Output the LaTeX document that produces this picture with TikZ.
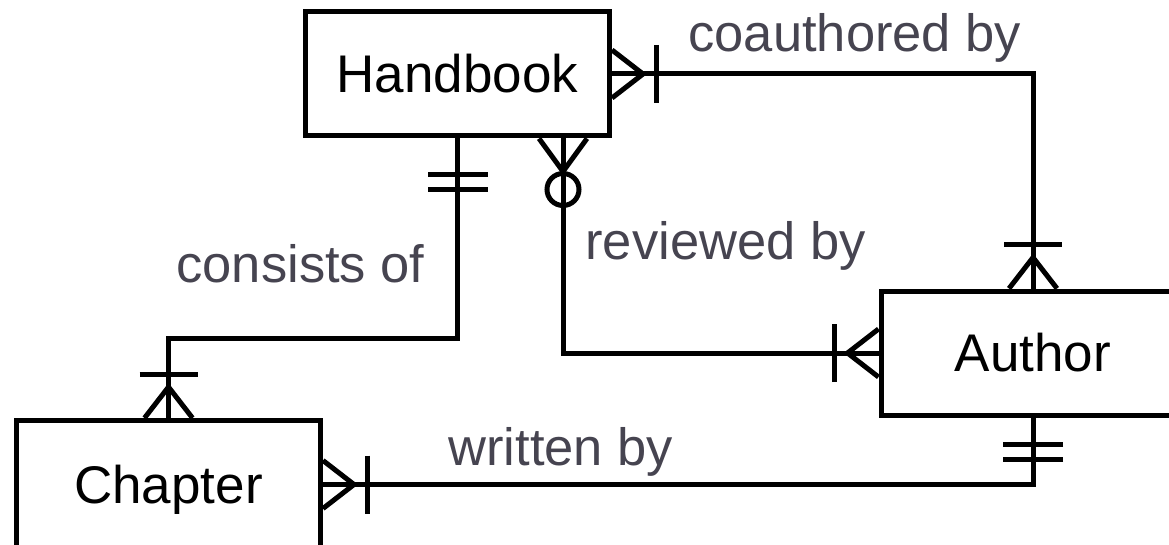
\documentclass[tikz,border=0pt]{standalone}
\usepackage{fontspec}
\setmainfont{Liberation Sans}
\definecolor{labelgray}{RGB}{70,68,80}
\begin{document}
\begin{tikzpicture}[x=1pt,y=-1pt,line width=5pt,
  entity/.style={draw,rectangle,minimum width=304pt,minimum height=124pt,inner sep=0pt,text height=37pt,text depth=0pt,font=\fontsize{53}{60}\selectfont},
  rel/.style={inner sep=0pt,anchor=base west,text=labelgray,font=\fontsize{52.5}{60}\selectfont},
  pics/crowone/.style={code={\draw (0,24) -- (31,0) -- (0,-24); \draw (44,-29) -- (44,29);}},
  pics/crowzero/.style={code={\draw (0,24) -- (33,0) -- (0,-24); \draw (51,0) circle[radius=16pt];}},
  pics/onlyone/.style 2 args={code={\draw (#1,-30) -- (#1,30); \draw (#2,-30) -- (#2,30);}},
]
\useasboundingbox (0,0) rectangle (1169,545);
% labels
\node[rel] (lco) at (686,52) {coauthored by};
\node[rel] (lrv) at (583,260) {reviewed by};
\node[rel] (lcs) at (174,282) {consists of};
\node[rel] (lwr) at (446,465) {written by};
% entities
\node[entity] (hb) at (457.5,74) {Handbook};
\node[entity] (au) at (1033,353) {Author};
\node[entity,minimum height=128pt] (ch) at (168.5,484.5) {Chapter};
% connectors
\coordinate (cbend) at (0,338);
\coordinate (rvx) at (563,0);
\draw (hb.east) -| (au.north);
\draw (hb.south) |- (ch.north |- cbend) -- (ch.north);
\draw (hb.south -| rvx) |- (au.west);
\draw (au.south) |- (ch.east);
% end markers
\pic[rotate=0] at (hb.east) {crowone};
\pic[rotate=90] at (au.north) {crowone};
\pic[rotate=-90] at (hb.south) {onlyone={36}{51}};
\pic[rotate=90] at (ch.north) {crowone};
\pic[rotate=-90] at (hb.south -| rvx) {crowzero};
\pic[rotate=180] at (au.west) {crowone};
\pic[rotate=-90] at (au.south) {onlyone={27}{42}};
\pic[rotate=0] at (ch.east) {crowone};
\end{tikzpicture}
\end{document}
